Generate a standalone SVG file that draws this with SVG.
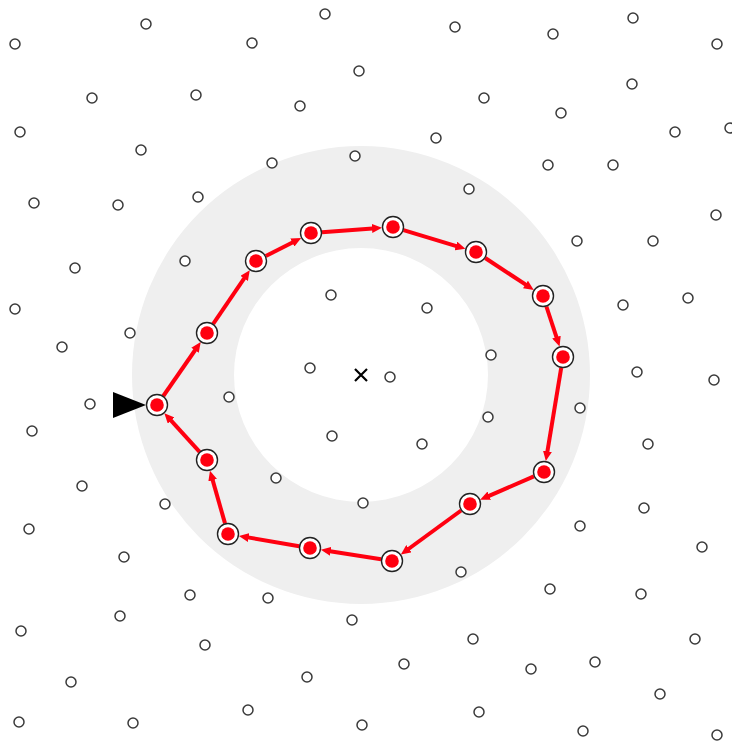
<svg xmlns="http://www.w3.org/2000/svg" width="732" height="743" viewBox="0 0 732 743">
<style>
.p{fill:#fff;stroke:#3a3a3a;stroke-width:1.5}
.e{stroke:#ff0010;stroke-width:4;fill:none;marker-end:url(#ah)}
.no{fill:#fff;stroke:#222;stroke-width:1.4}
.ni{fill:#ff0010}
</style>
<defs>
<marker id="ah" markerUnits="userSpaceOnUse" markerWidth="10" markerHeight="9" viewBox="0 0 10 9" refX="4" refY="4.5" orient="auto"><path d="M0,0 L10,4.5 L0,9 z" fill="#ff0010"/></marker>
</defs>
<rect width="732" height="743" fill="#fff"/>
<g id="annulus"><path d="M132,375 a229,229 0 1,0 458,0 a229,229 0 1,0 -458,0 z M234,375 a127,127 0 1,1 254,0 a127,127 0 1,1 -254,0 z" fill="#efefef" fill-rule="evenodd"/></g>
<g id="points">
<circle class="p" cx="15" cy="44" r="5"/><circle class="p" cx="146" cy="24" r="5"/><circle class="p" cx="252" cy="43" r="5"/><circle class="p" cx="325" cy="14" r="5"/><circle class="p" cx="455" cy="27" r="5"/><circle class="p" cx="553" cy="34" r="5"/><circle class="p" cx="633" cy="18" r="5"/><circle class="p" cx="717" cy="44" r="5"/>
<circle class="p" cx="92" cy="98" r="5"/><circle class="p" cx="196" cy="95" r="5"/><circle class="p" cx="359" cy="71" r="5"/><circle class="p" cx="300" cy="106" r="5"/><circle class="p" cx="484" cy="98" r="5"/><circle class="p" cx="561" cy="113" r="5"/><circle class="p" cx="632" cy="84" r="5"/>
<circle class="p" cx="20" cy="132" r="5"/><circle class="p" cx="141" cy="150" r="5"/><circle class="p" cx="272" cy="163" r="5"/><circle class="p" cx="355" cy="156" r="5"/><circle class="p" cx="436" cy="138" r="5"/><circle class="p" cx="548" cy="165" r="5"/><circle class="p" cx="613" cy="165" r="5"/><circle class="p" cx="675" cy="132" r="5"/><circle class="p" cx="730" cy="128" r="5"/>
<circle class="p" cx="34" cy="203" r="5"/><circle class="p" cx="118" cy="205" r="5"/><circle class="p" cx="198" cy="197" r="5"/><circle class="p" cx="469" cy="189" r="5"/><circle class="p" cx="716" cy="215" r="5"/>
<circle class="p" cx="75" cy="268" r="5"/><circle class="p" cx="185" cy="261" r="5"/><circle class="p" cx="577" cy="241" r="5"/><circle class="p" cx="653" cy="241" r="5"/>
<circle class="p" cx="15" cy="309" r="5"/><circle class="p" cx="130" cy="333" r="5"/><circle class="p" cx="331" cy="295" r="5"/><circle class="p" cx="427" cy="308" r="5"/><circle class="p" cx="623" cy="305" r="5"/><circle class="p" cx="688" cy="298" r="5"/>
<circle class="p" cx="62" cy="347" r="5"/><circle class="p" cx="310" cy="368" r="5"/><circle class="p" cx="390" cy="377" r="5"/><circle class="p" cx="491" cy="355" r="5"/><circle class="p" cx="637" cy="372" r="5"/><circle class="p" cx="714" cy="380" r="5"/>
<circle class="p" cx="90" cy="404" r="5"/><circle class="p" cx="229" cy="397" r="5"/><circle class="p" cx="580" cy="408" r="5"/>
<circle class="p" cx="32" cy="431" r="5"/><circle class="p" cx="332" cy="436" r="5"/><circle class="p" cx="422" cy="444" r="5"/><circle class="p" cx="488" cy="417" r="5"/><circle class="p" cx="648" cy="444" r="5"/>
<circle class="p" cx="82" cy="486" r="5"/><circle class="p" cx="276" cy="478" r="5"/><circle class="p" cx="363" cy="503" r="5"/><circle class="p" cx="165" cy="504" r="5"/><circle class="p" cx="644" cy="508" r="5"/>
<circle class="p" cx="29" cy="529" r="5"/><circle class="p" cx="580" cy="526" r="5"/><circle class="p" cx="702" cy="547" r="5"/>
<circle class="p" cx="124" cy="557" r="5"/><circle class="p" cx="461" cy="572" r="5"/>
<circle class="p" cx="190" cy="595" r="5"/><circle class="p" cx="268" cy="598" r="5"/><circle class="p" cx="550" cy="589" r="5"/><circle class="p" cx="641" cy="594" r="5"/>
<circle class="p" cx="21" cy="631" r="5"/><circle class="p" cx="120" cy="616" r="5"/><circle class="p" cx="352" cy="620" r="5"/><circle class="p" cx="473" cy="639" r="5"/><circle class="p" cx="695" cy="639" r="5"/>
<circle class="p" cx="205" cy="645" r="5"/><circle class="p" cx="404" cy="664" r="5"/><circle class="p" cx="531" cy="669" r="5"/><circle class="p" cx="595" cy="662" r="5"/>
<circle class="p" cx="71" cy="682" r="5"/><circle class="p" cx="307" cy="677" r="5"/><circle class="p" cx="660" cy="694" r="5"/>
<circle class="p" cx="19" cy="722" r="5"/><circle class="p" cx="133" cy="723" r="5"/><circle class="p" cx="248" cy="710" r="5"/><circle class="p" cx="362" cy="725" r="5"/><circle class="p" cx="479" cy="712" r="5"/><circle class="p" cx="583" cy="731" r="5"/><circle class="p" cx="717" cy="735" r="5"/>
</g>
<g id="center"><path d="M355,369 L367,381 M367,369 L355,381" stroke="#000" stroke-width="2.2"/></g>
<g id="connectors">
<line class="e" x1="163.3" y1="396.0" x2="197.3" y2="347.0"/>
<line class="e" x1="213.2" y1="323.9" x2="246.4" y2="275.1"/>
<line class="e" x1="265.8" y1="256.0" x2="295.9" y2="240.7"/>
<line class="e" x1="322.0" y1="232.2" x2="376.0" y2="228.2"/>
<line class="e" x1="403.5" y1="230.2" x2="459.7" y2="247.1"/>
<line class="e" x1="485.2" y1="258.0" x2="528.8" y2="286.7"/>
<line class="e" x1="546.4" y1="306.5" x2="557.7" y2="340.9"/>
<line class="e" x1="561.2" y1="367.9" x2="546.8" y2="455.2"/>
<line class="e" x1="533.9" y1="476.4" x2="485.6" y2="497.3"/>
<line class="e" x1="461.1" y1="510.5" x2="405.7" y2="551.0"/>
<line class="e" x1="381.1" y1="559.3" x2="326.8" y2="550.7"/>
<line class="e" x1="299.2" y1="546.2" x2="244.8" y2="536.9"/>
<line class="e" x1="225.0" y1="523.4" x2="211.6" y2="476.4"/>
<line class="e" x1="199.6" y1="451.9" x2="168.4" y2="417.6"/>
</g>
<g id="start"><path d="M113,392 L113,418 L146,405 z" fill="#000"/></g>
<g id="n1"><circle class="no" cx="157" cy="405" r="10.5"/><circle class="ni" cx="157" cy="405" r="6.8"/></g>
<g id="n2"><circle class="no" cx="207" cy="333" r="10.5"/><circle class="ni" cx="207" cy="333" r="6.8"/></g>
<g id="n3"><circle class="no" cx="256" cy="261" r="10.5"/><circle class="ni" cx="256" cy="261" r="6.8"/></g>
<g id="n4"><circle class="no" cx="311" cy="233" r="10.5"/><circle class="ni" cx="311" cy="233" r="6.8"/></g>
<g id="n5"><circle class="no" cx="393" cy="227" r="10.5"/><circle class="ni" cx="393" cy="227" r="6.8"/></g>
<g id="n6"><circle class="no" cx="476" cy="252" r="10.5"/><circle class="ni" cx="476" cy="252" r="6.8"/></g>
<g id="n7"><circle class="no" cx="543" cy="296" r="10.5"/><circle class="ni" cx="543" cy="296" r="6.8"/></g>
<g id="n8"><circle class="no" cx="563" cy="357" r="10.5"/><circle class="ni" cx="563" cy="357" r="6.8"/></g>
<g id="n9"><circle class="no" cx="544" cy="472" r="10.5"/><circle class="ni" cx="544" cy="472" r="6.8"/></g>
<g id="n10"><circle class="no" cx="470" cy="504" r="10.5"/><circle class="ni" cx="470" cy="504" r="6.8"/></g>
<g id="n11"><circle class="no" cx="392" cy="561" r="10.5"/><circle class="ni" cx="392" cy="561" r="6.8"/></g>
<g id="n12"><circle class="no" cx="310" cy="548" r="10.5"/><circle class="ni" cx="310" cy="548" r="6.8"/></g>
<g id="n13"><circle class="no" cx="228" cy="534" r="10.5"/><circle class="ni" cx="228" cy="534" r="6.8"/></g>
<g id="n14"><circle class="no" cx="207" cy="460" r="10.5"/><circle class="ni" cx="207" cy="460" r="6.8"/></g>
</svg>
